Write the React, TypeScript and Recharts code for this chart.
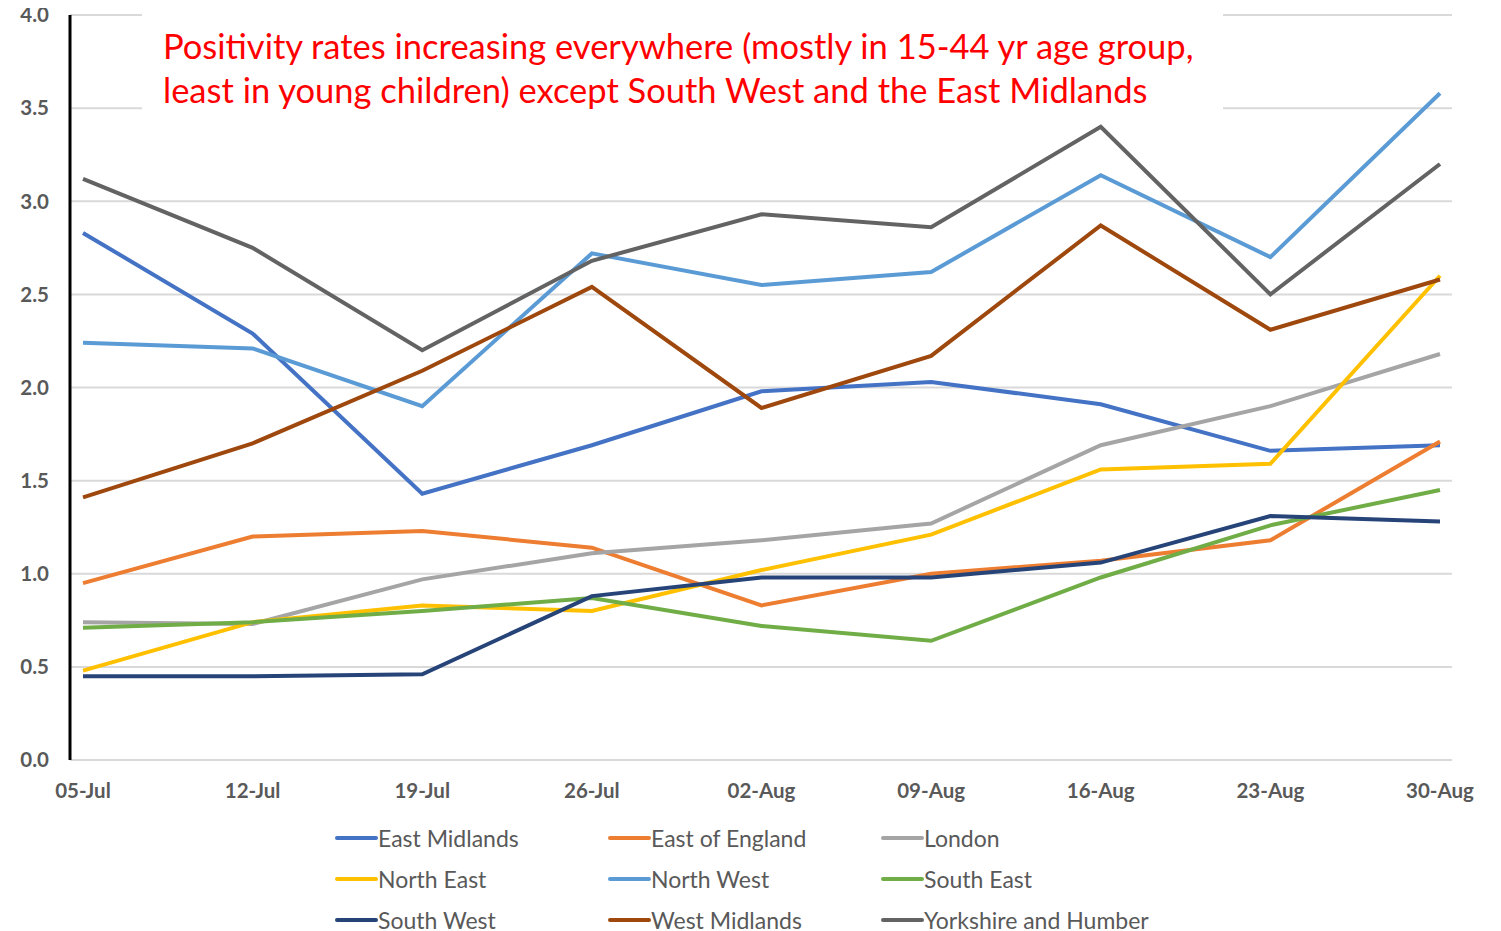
import React from 'react';
import { LineChart, Line, XAxis, YAxis, CartesianGrid } from 'recharts';

const weeks = ['05-Jul', '12-Jul', '19-Jul', '26-Jul', '02-Aug', '09-Aug', '16-Aug', '23-Aug', '30-Aug'];

const eastMidlands = [2.83, 2.29, 1.43, 1.69, 1.98, 2.03, 1.91, 1.66, 1.69];
const eastOfEngland = [0.95, 1.2, 1.23, 1.14, 0.83, 1.0, 1.07, 1.18, 1.71];
const london = [0.74, 0.73, 0.97, 1.11, 1.18, 1.27, 1.69, 1.9, 2.18];
const northEast = [0.48, 0.74, 0.83, 0.8, 1.02, 1.21, 1.56, 1.59, 2.6];
const northWest = [2.24, 2.21, 1.9, 2.72, 2.55, 2.62, 3.14, 2.7, 3.58];
const southEast = [0.71, 0.74, 0.8, 0.87, 0.72, 0.64, 0.98, 1.26, 1.45];
const southWest = [0.45, 0.45, 0.46, 0.88, 0.98, 0.98, 1.06, 1.31, 1.28];
const westMidlands = [1.41, 1.7, 2.09, 2.54, 1.89, 2.17, 2.87, 2.31, 2.58];
const yorkshire = [3.12, 2.75, 2.2, 2.68, 2.93, 2.86, 3.4, 2.5, 3.2];

const yTicks = [0, 0.5, 1, 1.5, 2, 2.5, 3, 3.5, 4];

const series = [
  { key: 'em', name: 'East Midlands', color: '#4472C4', values: eastMidlands },
  { key: 'ee', name: 'East of England', color: '#ED7D31', values: eastOfEngland },
  { key: 'lo', name: 'London', color: '#A5A5A5', values: london },
  { key: 'ne', name: 'North East', color: '#FFC000', values: northEast },
  { key: 'nw', name: 'North West', color: '#5B9BD5', values: northWest },
  { key: 'se', name: 'South East', color: '#70AD47', values: southEast },
  { key: 'sw', name: 'South West', color: '#264478', values: southWest },
  { key: 'wm', name: 'West Midlands', color: '#9E480E', values: westMidlands },
  { key: 'yh', name: 'Yorkshire and Humber', color: '#636363', values: yorkshire },
];

const data = weeks.map((w, i) => {
  const row: Record<string, any> = { week: w };
  series.forEach((s) => (row[s.key] = s.values[i]));
  return row;
});

const font = 'Lato, "Open Sans", sans-serif';
const tickStyle = { fill: '#595959', fontSize: 20.5, fontWeight: 700, fontFamily: font };

export default function App() {
  // shifted up by the body margin so the top tick label is not clipped
  return (
    <div style={{ position: 'relative', top: -8, width: 1493, height: 931, background: '#fff' }}>
      <LineChart width={1493} height={808} data={data} margin={{ top: 15, right: 49, left: 0, bottom: 8 }}>
        <CartesianGrid vertical={false} stroke="#d9d9d9" strokeWidth={2} />
        <XAxis
          dataKey="week"
          axisLine={{ stroke: '#d9d9d9', strokeWidth: 2 }}
          tickLine={false}
          tick={tickStyle}
          tickMargin={17}
          height={40}
          interval={0}
          padding={{ left: 13, right: 12 }}
        />
        <YAxis
          domain={[0, 4]}
          ticks={yTicks}
          tickFormatter={(v) => v.toFixed(1)}
          axisLine={{ stroke: '#000', strokeWidth: 3 }}
          tickLine={false}
          tick={tickStyle}
          tickMargin={15}
          width={62}
        />
        {series.map((s) => (
          <Line
            key={s.key}
            dataKey={s.key}
            name={s.name}
            stroke={s.color}
            strokeWidth={4}
            dot={false}
            isAnimationActive={false}
          />
        ))}
      </LineChart>
      <div
        style={{
          position: 'absolute',
          left: 134,
          top: 10,
          width: 1081,
          height: 104,
          background: '#fff',
          color: '#FF0000',
          fontFamily: font,
          fontSize: 34.5,
          lineHeight: '44px',
          paddingLeft: 21,
          paddingTop: 14,
          boxSizing: 'border-box',
          whiteSpace: 'nowrap',
        }}
      >
        Positivity rates increasing everywhere (mostly in 15-44 yr age group,
        <br />
        least in young children) except South West and the East Midlands
      </div>
      {series.map((s, i) => (
        <div
          key={s.key}
          style={{
            position: 'absolute',
            left: 327 + (i % 3) * 273,
            top: 825 + Math.floor(i / 3) * 41,
            height: 26,
            display: 'flex',
            alignItems: 'center',
            fontFamily: font,
            fontSize: 23,
            color: '#595959',
            whiteSpace: 'nowrap',
          }}
        >
          <span style={{ display: 'inline-block', width: 43, height: 4, background: s.color, borderRadius: 2 }} />
          <span>{s.name}</span>
        </div>
      ))}
    </div>
  );
}
